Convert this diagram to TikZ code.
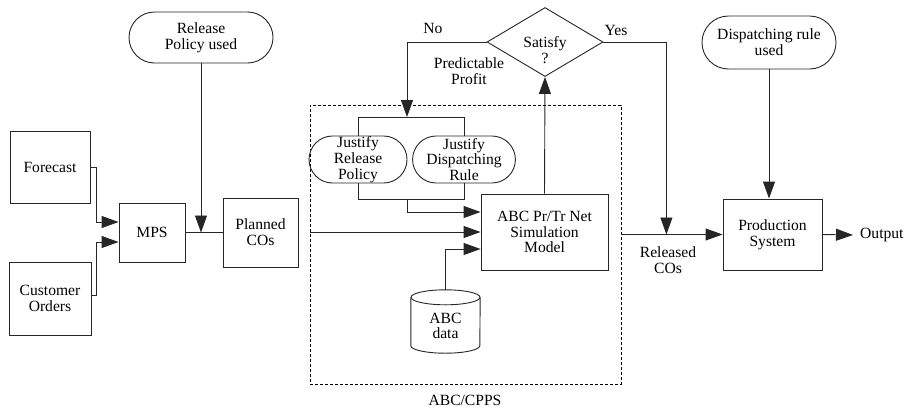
\documentclass[tikz,border=0pt]{standalone}
\usepackage{fontspec}
\setmainfont{Liberation Serif}
\usetikzlibrary{shapes.geometric,shapes.misc,arrows.meta,calc}

\tikzset{
  every node/.style={font=\fontsize{15.6}{15.8}\selectfont, align=center, inner sep=0pt},
  line/.style={line width=0.9pt, draw=black!85},
  arr/.style={line, -{Triangle[length=17pt,width=12pt]}},
  box/.style={line, draw, rectangle},
  pill/.style={line, draw, rounded rectangle},
  decide/.style={line, draw, diamond},
  frame/.style={line width=0.8pt, draw, dash pattern=on 3pt off 2pt},
}

\begin{document}
\begin{tikzpicture}[x=1pt, y=-1pt]
\useasboundingbox (0,0) rectangle (909,410);

% inputs and planning
\node[box, minimum width=80pt, minimum height=72pt] (fc) at (50,167) {Forecast};
\node[box, minimum width=82pt, minimum height=73pt] (co) at (50,298.5) {Customer\\Orders};
\node[box, minimum width=66pt, minimum height=59pt] (mps) at (152,232.5) {MPS};
\node[box, minimum width=75pt, minimum height=69pt] (pco) at (260.5,232.5) {Planned\\COs};
\node[pill, minimum width=144pt, minimum height=51pt] (rpu) at (201,37.5) {Release\\Policy used};

% ABC/CPPS block
\node[frame, minimum width=311pt, minimum height=279pt] (cpps) at (465.5,244.5) {};
\node (cppslbl) at (465,400) {ABC/CPPS};
\node[pill, minimum width=98pt, minimum height=47pt] (jrp) at (358,159.5) {Justify\\Release\\Policy};
\node[pill, minimum width=102pt, minimum height=47pt] (jdr) at (464,159.5) {Justify\\Dispatching\\Rule};
\node[box, minimum width=127pt, minimum height=76pt] (sim) at (544.5,232) {ABC Pr/Tr Net\\Simulation\\Model};
\node[minimum width=69pt, minimum height=63pt] (data) at (445.5,321.5) {};
\node (datalbl) at (445.5,326) {ABC\\data};

% decision
\node[decide, minimum width=116pt, minimum height=69pt] (sat) at (545,42) {};
\node (satlbl) at (545,50) {Satisfy\\?};

% production
\node[box, minimum width=99pt, minimum height=71pt] (ps) at (772.5,234.5) {Production\\System};
\node[pill, minimum width=134pt, minimum height=53pt] (dru) at (769,42.5) {Dispatching rule\\used};
\node[anchor=west, inner xsep=7pt] (out) at (853,235) {Output};

% data store drawn as a cylinder
\draw[line] ($(data.north)+(0,7.5)$) ellipse [x radius=34.5pt, y radius=7.5pt];
\draw[line] ($(data.north west)+(0,7.5)$) -- ($(data.south west)+(0,-7.5)$)
  arc[start angle=180, end angle=360, x radius=34.5pt, y radius=7.5pt]
  -- ($(data.north east)+(0,7.5)$);

% junction points
\coordinate (jt) at (407,117);
\coordinate (jb) at (407,199);

% connectors
\draw[arr] (fc.east) -- ++(6,0) |- ([yshift=10.5pt]mps.west);
\draw[arr] ([yshift=3pt]co.east) -- ++(5,0) |- ([yshift=-9.5pt]mps.west);
\draw[line] (mps.east) -- (pco.west);
\draw[arr] (rpu.south) -- (rpu.south |- mps.east);
\draw[arr] (cpps.west |- sim.west) -- (sim.west);

\draw[line] (jrp.north) |- (jdr.north |- jt) -- (jdr.north);
\draw[line] (jrp.south) |- (jdr.south |- jb) -- (jdr.south);
\draw[arr] (sat.west) -| (jt);
\draw[arr] (jb) |- ([yshift=20pt]sim.west);
\draw[arr] (data.north) |- ([yshift=-17pt]sim.west);
\draw[arr] (sim.north) -- (sat.south);

\coordinate (rel) at (cpps.east |- ps.west);
\draw[arr] (rel) -- (ps.west);
\draw[arr] (sat.east) -| ($(rel)+(45,0)$);
\draw[arr] (dru.south) -- (dru.south |- ps.north);
\draw[arr] (ps.east) -- (out.west);

% labels
\node (no) at (433,28) {No};
\node (yes) at (616,30) {Yes};
\node (pp) at (469,71) {Predictable\\Profit};
\node (rc) at (668,260) {Released\\COs};
\end{tikzpicture}
\end{document}
